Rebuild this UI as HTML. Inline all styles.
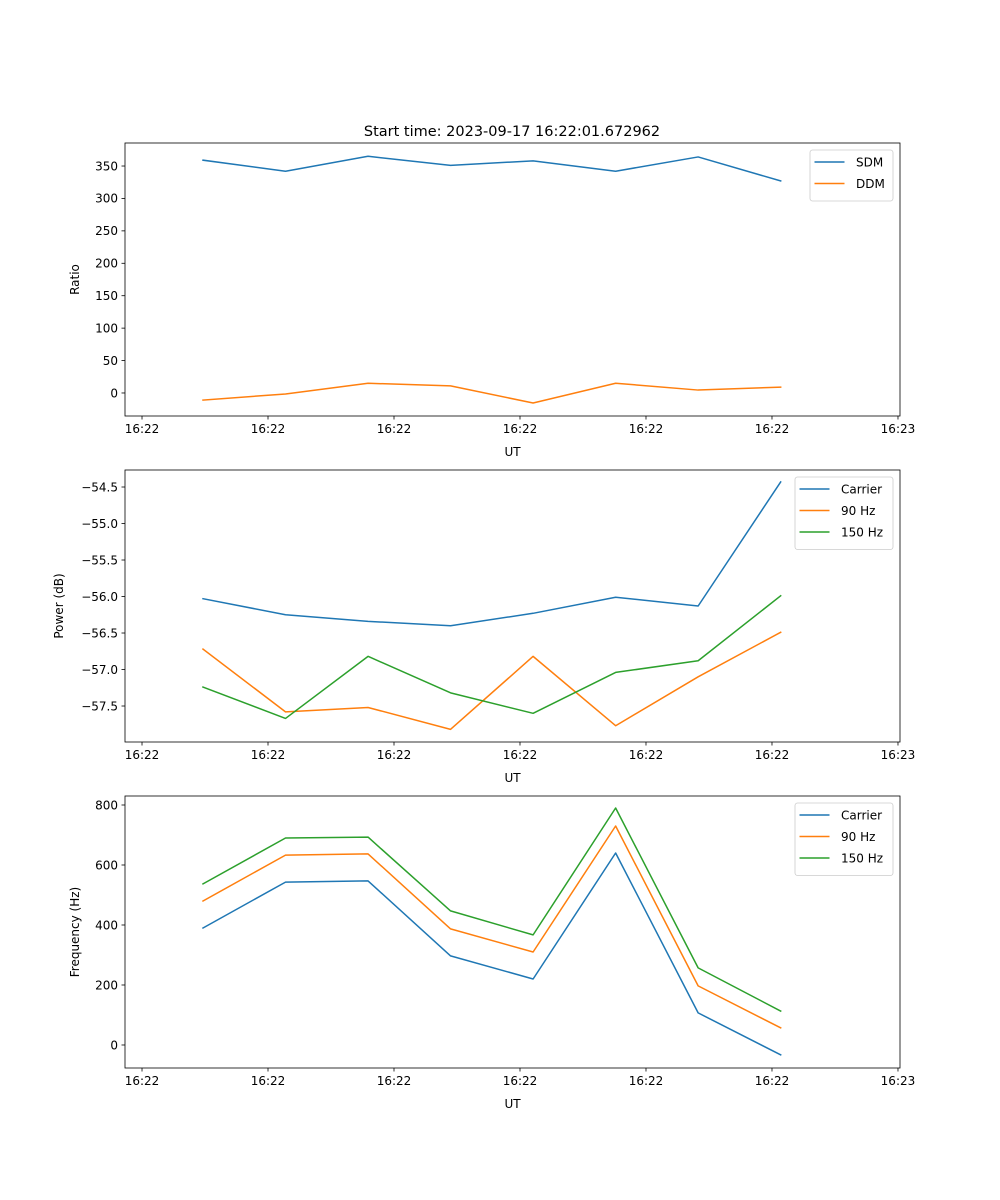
<!DOCTYPE html>
<html><head><meta charset="utf-8">
<style>
body{margin:0;background:#fff}
svg{display:block;font-family:"DejaVu Sans","Liberation Sans",sans-serif}
</style></head>
<body>
<svg id="fig" width="1000" height="1200" viewBox="0 0 1000 1200" xmlns="http://www.w3.org/2000/svg">
<rect width="1000" height="1200" fill="#fff"/>
<text x="512" y="136" font-size="14.5" text-anchor="middle">Start time: 2023-09-17 16:22:01.672962</text>
</svg>
<script>
// seconds after 16:22:00
const sampleTimes = [4.84, 11.39, 17.94, 24.49, 31.04, 37.59, 44.14, 50.69];
const xTickValues = [0, 10, 20, 30, 40, 50, 60];
const xTickLabels = ["16:22","16:22","16:22","16:22","16:22","16:22","16:23"];

const sdm = [359, 342, 365, 351, 358, 342, 364, 327];
const ddm = [-11, -1.5, 15, 11, -15.5, 15, 4.5, 9];
const ratioTicks = [0, 50, 100, 150, 200, 250, 300, 350];

const powerCarrier = [-56.03, -56.25, -56.34, -56.40, -56.23, -56.01, -56.13, -54.43];
const power90 = [-56.72, -57.58, -57.52, -57.82, -56.82, -57.77, -57.10, -56.49];
const power150 = [-57.24, -57.67, -56.82, -57.32, -57.60, -57.04, -56.88, -55.99];
const powerTicks = [-57.5, -57.0, -56.5, -56.0, -55.5, -55.0, -54.5];

const freqCarrier = [390, 543, 547, 297, 220, 640, 107, -33];
const freq90 = [480, 633, 637, 387, 310, 730, 197, 57];
const freq150 = [537, 690, 693, 447, 367, 790, 257, 113];
const freqTicks = [0, 200, 400, 600, 800];

const NS = "http://www.w3.org/2000/svg";
const svg = document.getElementById('fig');
const L = 125, R = 900, XMIN = -1.35, XMAX = 60.16;
function xs(t){ return L + (t - XMIN) / (XMAX - XMIN) * (R - L); }
function mk(tag, attrs, parent){
  const e = document.createElementNS(NS, tag);
  for (const k in attrs) e.setAttribute(k, attrs[k]);
  (parent || svg).appendChild(e); return e;
}
const C = ["#1f77b4", "#ff7f0e", "#2ca02c"];

function panel(name, top, bottom, ymin, ymax, ticks, fmt, ylabel, ylabelX, series, names, legend){
  const g = mk('g', {});
  
  
  const ys = v => bottom - (v - ymin) / (ymax - ymin) * (bottom - top);
  series.forEach((arr, si) => {
    const d = arr.map((v, i) => (i ? 'L' : 'M') + xs(sampleTimes[i]).toFixed(2) + ',' + ys(v).toFixed(2)).join(' ');
    const p = mk('path', {d: d, fill: 'none', stroke: C[si], 'stroke-width': 1.5, 'stroke-linejoin': 'round', 'stroke-linecap': 'square'}, g);
    
    
  });
  const fr = mk('rect', {x: L, y: top, width: R - L, height: bottom - top, fill: 'none', stroke: '#000', 'stroke-width': 0.8}, g);
  
  
  xTickValues.forEach((t, i) => {
    const x = xs(t);
    mk('line', {x1: x, x2: x, y1: bottom, y2: bottom + 3.5, stroke: '#000', 'stroke-width': 0.8}, g);
    const tx = mk('text', {x: x, y: bottom + 17, 'font-size': 12, 'text-anchor': 'middle'}, g);
    
    
    tx.textContent = xTickLabels[i];
  });
  const xl = mk('text', {x: (L + R) / 2, y: bottom + 40, 'font-size': 12, 'text-anchor': 'middle'}, g);
  
  
  xl.textContent = 'UT';
  ticks.forEach(v => {
    const y = ys(v);
    mk('line', {x1: L - 3.5, x2: L, y1: y, y2: y, stroke: '#000', 'stroke-width': 0.8}, g);
    const tx = mk('text', {x: L - 7, y: y + 4.3, 'font-size': 12, 'text-anchor': 'end'}, g);
    
    
    tx.textContent = fmt(v).replace('-', '\u2212');
  });
  const yl = mk('text', {x: ylabelX, y: (top + bottom) / 2, 'font-size': 12, 'text-anchor': 'middle', transform: 'rotate(-90 ' + ylabelX + ' ' + ((top + bottom) / 2) + ')'}, g);
  
  
  yl.textContent = ylabel;
  const lg = mk('g', {}, g);
  
  
  mk('rect', {x: legend.x, y: legend.y, width: legend.w, height: 8 + names.length * 21.5, rx: 2.5, fill: '#fff', 'fill-opacity': 0.8, stroke: '#ccc', 'stroke-width': 0.8}, lg);
  names.forEach((n, i) => {
    const y = legend.y + 12 + i * 21.5;
    mk('line', {x1: legend.x + 4.5, x2: legend.x + 34.5, y1: y, y2: y, stroke: C[i], 'stroke-width': 1.5}, lg);
    const t = mk('text', {x: legend.x + 46, y: y + 4.5, 'font-size': 12}, lg);
    
    
    t.textContent = n;
  });
}

panel('ratio', 143, 416, -35.5, 385.5, ratioTicks, v => String(v), 'Ratio', 79,
  [sdm, ddm], ['SDM', 'DDM'], {x: 810, y: 150, w: 83});
panel('power', 470, 742, -57.993, -54.267, powerTicks, v => v.toFixed(1), 'Power (dB)', 63,
  [powerCarrier, power90, power150], ['Carrier', '90 Hz', '150 Hz'], {x: 795, y: 477, w: 98});
panel('frequency', 796, 1068, -76.7, 830, freqTicks, v => String(v), 'Frequency (Hz)', 79,
  [freqCarrier, freq90, freq150], ['Carrier', '90 Hz', '150 Hz'], {x: 795, y: 803, w: 98});
</script>
</body></html>
